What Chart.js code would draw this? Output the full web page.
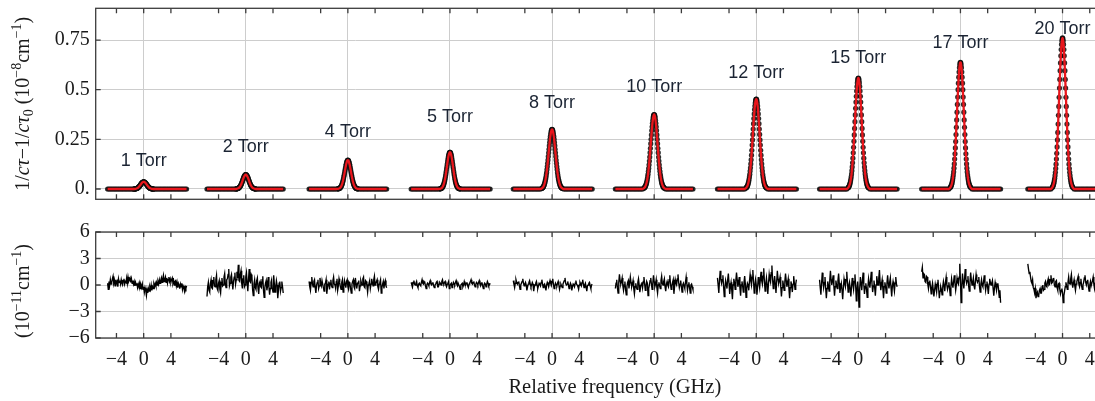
<!DOCTYPE html>
<html>
<head>
<meta charset="utf-8">
<script src="https://cdn.jsdelivr.net/npm/chart.js@4.4.1/dist/chart.umd.min.js"></script>
<style>
  html, body { margin: 0; padding: 0; background: #fff; overflow: hidden; width: 1095px; height: 401px; }
  canvas { position: absolute; left: 0; }
  #peaks { top: 0; }
  #resid { top: 210px; }
</style>
</head>
<body>
<canvas id="peaks" width="1140" height="210"></canvas>
<canvas id="resid" width="1140" height="191"></canvas>
<script>
// ---- data ----
const SEG_SPACING = 15; // GHz between centres of neighbouring scans on the shared axis
const pressures = ["1 Torr", "2 Torr", "4 Torr", "5 Torr", "8 Torr", "10 Torr", "12 Torr", "15 Torr", "17 Torr", "20 Torr"];
const scanRange = [[-5.3, 6.3], [-5.7, 5.5], [-5.7, 5.7], [-5.7, 5.9], [-5.7, 5.9], [-5.7, 5.7], [-5.7, 5.9], [-5.7, 5.7], [-5.7, 5.9], [-5.1, 6.1]];
const labelY = [0.14, 0.213, 0.289, 0.364, 0.435, 0.513, 0.584, 0.662, 0.734, 0.808];

const xTickRel = [-4, 0, 4];
const topTicks = [0, 0.25, 0.5, 0.75];
const topTickLabels = ["0.", "0.25", "0.5", "0.75"];
const resTicks = [-6, -3, 0, 3, 6];
const resTickLabels = ["\u22126", "\u22123", "0", "3", "6"];

const BASELINE = 0; // flat wings of every scan

// coarse sampling of the flat wings, GHz
const wingFreq = [-6.1, -5.9, -5.7, -5.5, -5.3, -5.1, -4.9, -4.7, -4.5, -4.3, -4.1, -3.9, -3.7, -3.5, -3.3, -3.1,
  -2.9, -2.7, -2.5, -2.3, -2.1, -1.9, -1.7, 1.7, 1.9, 2.1, 2.3, 2.5, 2.7, 2.9, 3.1, 3.3, 3.5, 3.7, 3.9,
  4.1, 4.3, 4.5, 4.7, 4.9, 5.1, 5.3, 5.5, 5.7, 5.9, 6.1, 6.3, 6.5];

// fine sampling across the absorption line, GHz
const coreFreq = [-1.5, -1.45, -1.4, -1.35, -1.3, -1.25, -1.2, -1.15, -1.1, -1.05, -1, -0.95, -0.9, -0.85, -0.8, -0.75,
  -0.7, -0.65, -0.6, -0.55, -0.5, -0.45, -0.4, -0.35, -0.3, -0.25, -0.2, -0.15, -0.1, -0.05, 0,
  0.05, 0.1, 0.15, 0.2, 0.25, 0.3, 0.35, 0.4, 0.45, 0.5, 0.55, 0.6, 0.65, 0.7, 0.75, 0.8, 0.85, 0.9, 0.95,
  1, 1.05, 1.1, 1.15, 1.2, 1.25, 1.3, 1.35, 1.4, 1.45, 1.5];

// residual sampling, GHz
const resFreq = [-6.1, -6, -5.9, -5.8, -5.7, -5.6, -5.5, -5.4, -5.3, -5.2, -5.1, -5, -4.9, -4.8, -4.7, -4.6, -4.5, -4.4, -4.3, -4.2,
  -4.1, -4, -3.9, -3.8, -3.7, -3.6, -3.5, -3.4, -3.3, -3.2, -3.1, -3, -2.9, -2.8, -2.7, -2.6, -2.5, -2.4, -2.3, -2.2,
  -2.1, -2, -1.9, -1.8, -1.7, -1.6, -1.5, -1.4, -1.3, -1.2, -1.1, -1, -0.9, -0.8, -0.7, -0.6, -0.5, -0.4, -0.3, -0.2,
  -0.1, 0, 0.1, 0.2, 0.3, 0.4, 0.5, 0.6, 0.7, 0.8, 0.9, 1, 1.1, 1.2, 1.3, 1.4, 1.5, 1.6, 1.7, 1.8,
  1.9, 2, 2.1, 2.2, 2.3, 2.4, 2.5, 2.6, 2.7, 2.8, 2.9, 3, 3.1, 3.2, 3.3, 3.4, 3.5, 3.6, 3.7, 3.8,
  3.9, 4, 4.1, 4.2, 4.3, 4.4, 4.5, 4.6, 4.7, 4.8, 4.9, 5, 5.1, 5.2, 5.3, 5.4, 5.5, 5.6, 5.7, 5.8,
  5.9, 6, 6.1, 6.2, 6.3, 6.4, 6.5];

// 1/c tau - 1/c tau0 (1e-8 cm^-1) on coreFreq
const peak1 = [0,0,0,0,.001,.001,.001,.001,.002,.002,.003,.004,.005,.006,.007,.009,.011,.013,.015,.017,.019,.022,.024,.027,.029,.031,.033,.034,.035,.036,
  .036,
  .036,.035,.034,.033,.031,.029,.027,.024,.022,.019,.017,.015,.013,.011,.009,.007,.006,.005,.004,.003,.002,.002,.001,.001,.001,.001,0,0,0,0];
const peak2 = [0,0,.001,.001,.001,.002,.002,.003,.004,.005,.006,.008,.010,.012,.015,.018,.021,.025,.030,.034,.039,.044,.049,.053,.058,.062,.065,.068,.070,.072,
  .072,
  .072,.070,.068,.065,.062,.058,.053,.049,.044,.039,.034,.030,.025,.021,.018,.015,.012,.010,.008,.006,.005,.004,.003,.002,.002,.001,.001,.001,0,0];
const peak3 = [.001,.001,.001,.002,.002,.003,.004,.006,.007,.010,.012,.016,.020,.024,.030,.036,.043,.051,.060,.069,.078,.088,.098,.107,.116,.124,.131,.137,.142,.144,
  .145,
  .144,.142,.137,.131,.124,.116,.107,.098,.088,.078,.069,.060,.051,.043,.036,.030,.024,.020,.016,.012,.010,.007,.006,.004,.003,.002,.002,.001,.001,.001];
const peak4 = [.001,.001,.001,.002,.003,.004,.005,.007,.009,.012,.016,.020,.025,.031,.038,.046,.055,.065,.076,.088,.100,.112,.125,.137,.148,.159,.168,.175,.181,.184,
  .185,
  .184,.181,.175,.168,.159,.148,.137,.125,.112,.100,.088,.076,.065,.055,.046,.038,.031,.025,.020,.016,.012,.009,.007,.005,.004,.003,.002,.001,.001,.001];
const peak5 = [.003,.005,.006,.008,.010,.013,.017,.021,.027,.033,.041,.049,.059,.071,.083,.098,.113,.129,.146,.164,.182,.200,.218,.235,.251,.265,.277,.287,.294,.299,
  .300,
  .299,.294,.287,.277,.265,.251,.235,.218,.200,.182,.164,.146,.129,.113,.098,.083,.071,.059,.049,.041,.033,.027,.021,.017,.013,.010,.008,.006,.005,.003];
const peak6 = [.004,.006,.008,.010,.013,.017,.021,.027,.033,.041,.051,.062,.074,.089,.104,.122,.141,.161,.183,.205,.228,.250,.272,.294,.313,.331,.346,.359,.368,.373,
  .375,
  .373,.368,.359,.346,.331,.313,.294,.272,.250,.228,.205,.183,.161,.141,.122,.104,.089,.074,.062,.051,.041,.033,.027,.021,.017,.013,.010,.008,.006,.004];
const peak7 = [.005,.007,.009,.012,.015,.020,.025,.032,.040,.050,.061,.074,.090,.107,.126,.147,.170,.195,.221,.247,.275,.302,.329,.355,.378,.400,.418,.433,.444,.451,
  .453,
  .451,.444,.433,.418,.400,.378,.355,.329,.302,.275,.247,.221,.195,.170,.147,.126,.107,.090,.074,.061,.050,.040,.032,.025,.020,.015,.012,.009,.007,.005];
const peak8 = [.006,.008,.011,.015,.019,.025,.031,.040,.050,.061,.075,.092,.111,.132,.155,.182,.210,.240,.272,.305,.339,.373,.406,.438,.467,.493,.516,.534,.548,.556,
  .559,
  .556,.548,.534,.516,.493,.467,.438,.406,.373,.339,.305,.272,.240,.210,.182,.155,.132,.111,.092,.075,.061,.050,.040,.031,.025,.019,.015,.011,.008,.006];
const peak9 = [.007,.010,.013,.017,.022,.028,.036,.045,.057,.070,.086,.105,.126,.151,.177,.207,.239,.274,.311,.348,.387,.426,.463,.500,.533,.563,.589,.610,.625,.635,
  .638,
  .635,.625,.610,.589,.563,.533,.500,.463,.426,.387,.348,.311,.274,.239,.207,.177,.151,.126,.105,.086,.070,.057,.045,.036,.028,.022,.017,.013,.010,.007];
const peak10 = [.008,.011,.015,.020,.026,.033,.043,.054,.068,.084,.103,.125,.151,.180,.212,.247,.285,.327,.371,.416,.462,.508,.552,.596,.635,.671,.702,.728,.746,.757,
  .761,
  .757,.746,.728,.702,.671,.635,.596,.552,.508,.462,.416,.371,.327,.285,.247,.212,.180,.151,.125,.103,.084,.068,.054,.043,.033,.026,.020,.015,.011,.008];

// fit residuals (1e-11 cm^-1) on resFreq inside each scanRange
const res1 = [0.2,-0.5,0.4,0.0,0.6,0.1,0.3,0.7,1.0,0.2, 0.5,-0.1,0.6,0.2,0.4,-0.2,0.7,0.3,0.5,0.1,
  0.6,0.2,0.0,0.5,0.7,0.1,0.4,0.3,0.8,0.2, 0.9,0.4,0.6,0.8,0.3,0.7,0.2,0.5,0.1,0.4,
  -0.1,0.3,0.0,0.2,-0.3,0.1,-0.2,0.2,-0.4,0.0, -0.3,0.1,-0.5,-0.2,-0.8,-0.3,-0.6,-1.2,-0.5,-0.9,
  -0.4,-0.7,-0.2,-0.5,0.0,-0.6,-0.2,-0.4,0.1,-0.2, 0.2,-0.1,0.3,0.0,0.4,0.1,0.6,0.2,0.5,0.8,
  0.3,0.7,1.1,0.4,0.6,0.9,0.3,0.8,0.2,0.6, 0.9,0.4,0.7,0.3,0.6,0.8,0.2,0.5,0.0,0.4,
  0.5,-0.1,0.3,-0.3,0.2,0.0,-0.4,0.1,-0.2,0.2, -0.5,-0.1,-0.3,-0.7,-0.2,-0.4,-0.1];
const res2 = [-1.3,-0.2,0.3,-0.6,-0.8,0.2,0.6,-0.3,-0.4,0.5, 0.9,-0.1,-0.2,0.6,1.1,-0.4,-0.6,0.2,0.5,-0.5,
  -0.9,0.3,0.8,-0.1,0.0,0.9,1.3,0.1,-0.3,0.6, 0.7,1.2,1.8,-0.1,0.2,0.9,1.2,0.3,-0.5,0.4,
  0.9,1.4,0.1,0.6,1.5,0.8,2.3,0.5,0.4,1.2, 1.6,0.2,-0.4,0.7,1.1,-0.2,0.0,0.9,1.4,0.3,
  -0.7,0.6,1.8,0.4,0.3,1.2,1.0,-0.5,-1.2,0.1, 0.6,-0.3,-0.5,0.5,0.8,-0.4,-1.0,0.2,0.4,-0.2,
  -0.3,0.6,1.0,-0.6,-1.4,-0.3,0.2,0.5,-0.6,-0.1, 0.9,-0.2,-1.1,-0.4,0.3,0.6,-0.4,-0.8,1.1,0.1,
  -0.8,-0.2,0.5,0.0,-1.5,-0.6,0.2,0.4,-0.7,-0.3, 0.4,-0.2,-0.9];
const res3 = [0.4,-0.2,-0.6,0.3,0.9,0.1,-0.2,0.4,0.6,-0.3, -0.9,0.0,0.3,0.6,-0.4,-0.1,0.8,0.2,-0.1,0.5,
  0.5,-0.3,-0.7,0.1,0.2,0.6,-1.0,-0.3,0.1,0.4, -0.5,0.2,0.6,-0.1,-0.3,0.5,0.9,0.1,0.0,-0.4,
  0.4,0.7,-0.6,-0.1,0.7,0.3,-0.2,-0.5,0.3,0.6, -0.8,-0.2,0.5,0.1,-0.3,0.4,0.6,-0.2,-0.5,0.3,
  0.2,-0.4,-0.9,0.1,0.4,0.6,-0.2,-0.4,0.8,0.2, -0.4,0.1,0.3,0.5,-0.7,-0.1,0.5,0.2,0.0,0.7,
  0.9,-0.2,-0.3,0.5,0.4,-0.1,-0.8,0.0,0.2,0.5, -0.4,0.1,0.7,0.3,-0.1,0.6,1.0,0.0,0.2,0.4,
  0.6,-0.2,-0.5,0.1,0.3,0.6,-0.9,-0.3,0.1,0.4, -0.4,0.2,0.5,-0.1,-0.3];
const res4 = [0.3,0.0,-0.2,0.3,0.5,0.1,0.0,0.2,0.4,-0.1, -0.3,0.1,0.2,0.0,-0.1,0.3,0.6,0.2,0.1,0.4,
  0.3,-0.1,-0.4,0.0,0.2,0.1,-0.1,0.3,0.5,0.1, 0.0,0.2,0.3,-0.1,-0.3,0.0,0.1,0.3,0.4,-0.2,
  -0.2,0.1,0.3,0.2,0.0,0.4,0.6,0.2,0.1,0.3, 0.4,0.0,-0.2,0.1,0.2,0.4,-0.4,-0.1,0.1,0.2,
  -0.3,0.0,0.3,0.1,0.0,0.3,0.5,0.1,-0.1,0.2, 0.2,-0.2,-0.5,0.0,0.1,0.2,-0.2,0.0,0.4,0.1,
  0.0,0.2,0.3,-0.1,-0.3,0.1,0.2,0.4,0.6,0.2, 0.1,0.3,0.4,0.0,-0.2,0.1,0.3,0.2,0.0,0.3,
  0.5,0.1,-0.1,0.2,0.3,-0.1,-0.4,0.0,0.2,0.1, -0.2,0.1,0.4,0.2,-0.1,0.0,0.2];
const res5 = [0.5,0.1,-0.3,0.2,0.6,0.3,0.1,0.3,0.4,-0.1, -0.5,0.0,0.2,0.4,0.7,0.2,-0.1,0.1,0.3,0.0,
  -0.6,-0.2,0.1,0.3,0.5,0.1,-0.2,0.0,0.3,0.1, -0.7,-0.2,0.0,0.2,0.4,0.0,-0.4,-0.1,0.2,0.1,
  -0.1,0.3,0.6,0.1,-0.3,0.0,0.1,-0.2,-0.6,0.0, 0.3,0.1,-0.2,0.2,0.5,0.2,0.0,0.4,0.7,0.1,
  -0.4,-0.1,0.2,0.0,-0.1,0.2,0.4,0.0,-0.5,-0.1, 0.1,-0.1,-0.3,0.1,0.3,0.5,0.8,0.2,0.0,0.1,
  0.4,0.0,-0.4,-0.1,0.2,0.0,-0.6,-0.2,0.1,0.0, -0.2,0.2,0.5,0.1,0.0,-0.2,-0.5,0.0,0.3,0.1,
  -0.1,0.3,0.6,0.1,-0.3,0.0,0.2,-0.2,-0.7,-0.1, 0.0,0.2,0.3,-0.1,-0.4,0.0,0.1];
const res6 = [-0.4,0.2,0.6,-0.3,-0.9,0.3,1.2,0.5,0.1,0.4, 0.8,-0.1,-0.6,0.0,0.4,-0.5,-1.1,-0.2,0.3,0.5,
  -0.4,0.2,0.9,0.3,-0.2,0.1,0.5,-0.4,-1.0,-0.2, 0.2,-0.3,-0.5,0.3,0.7,0.0,-0.8,-0.3,0.1,0.3,
  -0.3,0.4,0.9,0.1,-0.6,-0.1,0.4,0.2,-1.2,-0.4, 0.0,0.5,0.8,0.1,-0.5,0.2,1.1,0.4,-0.2,0.1,
  0.6,-0.3,-0.9,0.0,0.3,-0.1,-0.4,0.5,1.0,0.2, 0.0,0.4,0.7,-0.2,-0.7,0.1,0.4,0.0,-0.2,0.6,
  1.1,0.1,-0.5,-0.1,0.3,0.6,-1.0,-0.2,0.6,0.2, 0.0,0.7,1.2,0.3,-0.3,0.1,0.5,-0.2,-0.8,0.0,
  0.2,-0.1,-0.4,0.3,0.9,0.1,-0.6,0.0,0.3,-0.3, -0.9,0.0,0.1,-0.2,-0.5];
const res7 = [0.8,0.0,-0.9,0.5,1.6,0.7,0.2,0.6,1.1,-0.2, -1.3,-0.3,0.5,0.1,-0.4,0.6,1.3,0.2,-1.0,-0.2,
  0.3,-0.6,-1.6,0.0,0.7,0.3,-0.5,0.5,1.4,0.6, -0.2,0.2,0.9,-0.3,-1.2,0.0,0.4,-0.1,-0.8,0.3,
  1.0,0.1,-1.4,-0.4,0.2,0.0,-0.6,0.4,1.2,0.5, 0.0,0.9,1.7,0.4,-0.9,-0.1,0.6,0.0,-1.1,-0.2,
  0.9,0.3,-0.3,0.6,1.5,0.5,0.1,1.0,1.9,0.4, -0.7,0.1,0.8,0.0,-1.0,0.2,1.2,0.6,0.3,1.4,
  2.2,0.6,-0.4,0.3,1.0,0.1,-0.9,0.4,1.6,0.7, 0.2,0.5,0.9,-0.2,-1.3,-0.3,0.5,0.0,-0.6,0.4,
  1.3,0.5,-0.2,0.2,0.7,-0.4,-1.5,-0.3,0.4,0.0, -0.8,0.1,1.0,0.2,-0.5,0.1,0.6];
const res8 = [0.6,-0.3,-1.1,0.2,1.4,0.4,-0.3,0.3,0.9,-0.4, -1.5,-0.4,0.4,0.0,-0.7,0.5,1.6,0.6,0.0,0.5,
  1.1,-0.1,-1.2,-0.2,0.5,0.0,-0.4,0.5,1.3,0.2, -0.9,-0.2,0.2,-0.6,-1.6,-0.3,0.7,0.2,-0.2,0.6,
  1.5,0.3,-0.8,-0.1,0.3,-0.4,-1.3,-0.2,0.8,0.1, -0.5,0.4,1.2,0.0,-1.8,-0.5,0.4,-0.6,-2.5,-0.4,
  0.9,0.2,-0.6,0.5,1.4,0.1,-1.0,-0.2,0.2,-0.5, -1.4,-0.3,0.7,0.1,-0.3,0.6,1.5,0.2,-0.8,-0.1,
  0.5,-0.3,-1.2,0.0,1.0,0.4,0.0,0.8,1.7,0.3, -0.6,0.1,0.6,-0.4,-1.5,-0.2,0.3,-0.2,-0.9,0.2,
  1.1,0.2,-0.4,0.3,0.8,-0.3,-1.3,-0.1,0.4,-0.1, -0.7,0.2,0.9,0.1,-0.2];
const res9 = [1.5,2.0,0.8,1.3,1.2,0.4,0.3,1.0,0.9,0.1, -0.4,0.3,0.5,-0.2,-1.0,-0.3,0.2,-0.5,-1.3,-0.6,
  0.1,-0.3,-0.8,0.2,0.6,-0.4,-1.5,-0.7,-0.2,-0.5, -1.1,-0.2,0.4,-0.1,-0.7,0.3,0.9,0.0,-0.5,-0.1,
  0.3,-0.4,-1.2,-0.2,0.7,0.1,-0.3,0.4,1.1,0.2, -0.6,0.0,0.8,0.3,0.1,0.9,2.4,0.5,-2.0,-0.3,
  1.3,0.4,-0.4,0.6,1.8,0.7,0.2,0.5,1.0,-0.1, -0.7,0.3,1.4,0.6,0.0,0.3,0.8,-0.1,-0.5,0.4,
  1.2,0.6,0.3,0.5,0.9,-0.2,-0.8,0.1,0.6,0.0, -0.2,0.4,1.1,0.2,-0.6,0.0,0.4,-0.3,-1.0,0.1,
  0.7,0.3,0.0,0.2,0.5,-0.4,-1.2,-0.3,0.3,-0.1, -0.6,0.1,0.2,-0.5,-1.4,-0.6,-2.0];
const res10 = [2.4,1.8,1.3,1.5,0.9,0.4,0.2,0.6,-0.3,-0.5, -0.9,-0.4,-1.5,-1.0,-0.8,-1.3,-1.2,-0.6,-0.4,-0.9,
  -0.9,-0.2,0.0,-0.6,-0.5,0.2,0.4,-0.1,-0.2,0.4, 0.7,0.0,0.1,0.6,1.1,0.2,0.3,0.7,0.8,0.0,
  -0.2,0.4,0.5,-0.3,-0.6,0.1,0.2,-0.5,-1.0,-0.6, -0.4,-0.9,-2.0,-1.2,-0.7,-0.2,0.3,-0.1,-0.5,0.3,
  0.9,0.2,0.1,0.7,1.2,0.3,-0.3,0.2,0.6,-0.1, -0.6,0.1,0.4,0.7,1.0,0.1,-0.2,0.3,0.7,-0.1,
  -0.5,0.0,0.3,0.8,1.1,0.3,0.0,0.4,0.6,-0.2, -0.7,0.0,0.4,-0.1,-0.1,0.5,0.9,0.1,-0.4,0.2,
  0.5,0.0,0.0,0.4,0.8,0.1,-0.5,-0.1,0.3,0.0, -0.2,0.1,0.4];

const peaks = [peak1, peak2, peak3, peak4, peak5, peak6, peak7, peak8, peak9, peak10];
const residuals = [res1, res2, res3, res4, res5, res6, res7, res8, res9, res10];

// ---- look ----
const X_MIN = -7.05, X_MAX = 145.5;
const SERIF = '"Liberation Serif", "Times New Roman", serif';
const SANS = '"Liberation Sans", Arial, sans-serif';
const TXT = '#1a1a1a';
const GRID = '#cdcdcd';
const FRAME = '#3c3c3c';
const FIT_RED = '#e8161c';

function relOf(v) { return Math.round(v - SEG_SPACING * Math.round(v / SEG_SPACING)); }
function inScan(f, r) { return f >= r[0] - 1e-6 && f <= r[1] + 1e-6; }

function peakPoints(k) {
  const off = k * SEG_SPACING;
  const pts = [];
  wingFreq.forEach(f => { if (inScan(f, scanRange[k])) pts.push({ x: off + f, y: BASELINE }); });
  coreFreq.forEach((f, i) => { if (peaks[k][i] !== undefined) pts.push({ x: off + f, y: peaks[k][i] }); });
  return pts.sort((a, b) => a.x - b.x);
}

function residualPoints(k) {
  const off = k * SEG_SPACING;
  const fs = resFreq.filter(f => inScan(f, scanRange[k]));
  return residuals[k].slice(0, fs.length).map((v, i) => ({ x: off + fs[i], y: v }));
}

function xAxis(showLabels, height) {
  return {
    type: 'linear', min: X_MIN, max: X_MAX,
    afterBuildTicks: s => {
      s.ticks = [];
      pressures.forEach((p, k) => xTickRel.forEach(t => s.ticks.push({ value: k * SEG_SPACING + t })));
    },
    afterFit: s => { s.height = height; s.paddingLeft = 0; s.paddingRight = 0; },
    ticks: {
      display: showLabels, autoSkip: false, maxRotation: 0, minRotation: 0, padding: 10,
      color: TXT, font: { family: SERIF, size: 20 },
      callback: v => { const r = relOf(v); return r < 0 ? '\u2212' + (-r) : String(r); }
    },
    grid: { drawTicks: false, lineWidth: 1, color: c => (c.tick && relOf(c.tick.value) === 0) ? GRID : 'rgba(0,0,0,0)' },
    border: { display: false }
  };
}

function yAxis(min, max, ticks, labels) {
  return {
    min, max,
    afterBuildTicks: s => { s.ticks = ticks.map(v => ({ value: v })); },
    afterFit: s => { s.width = 95.7; s.paddingTop = 0; s.paddingBottom = 0; },
    ticks: { autoSkip: false, padding: 6, color: TXT, font: { family: SERIF, size: 20 }, callback: (v, i) => labels[i] },
    grid: { drawTicks: false, color: GRID, lineWidth: 1 },
    border: { display: false }
  };
}

// frame with inward ticks, like the original
const framePlugin = {
  id: 'frame',
  afterDraw(chart) {
    const { ctx, chartArea: a, scales: { x, y } } = chart;
    ctx.save();
    ctx.strokeStyle = FRAME;
    ctx.lineWidth = 1.3;
    ctx.strokeRect(a.left, a.top, a.right - a.left, a.bottom - a.top);
    ctx.beginPath();
    x.ticks.forEach(t => {
      const px = x.getPixelForValue(t.value);
      ctx.moveTo(px, a.bottom); ctx.lineTo(px, a.bottom - 5);
      ctx.moveTo(px, a.top); ctx.lineTo(px, a.top + 5);
    });
    y.ticks.forEach(t => {
      const py = y.getPixelForValue(t.value);
      ctx.moveTo(a.left, py); ctx.lineTo(a.left + 5, py);
    });
    ctx.stroke();
    ctx.restore();
  }
};

const pressureLabels = {
  id: 'pressureLabels',
  afterDatasetsDraw(chart) {
    const { ctx, scales: { x, y } } = chart;
    ctx.save();
    ctx.fillStyle = '#1b2433';
    ctx.font = '18px ' + SANS;
    ctx.textAlign = 'center';
    ctx.textBaseline = 'middle';
    pressures.forEach((p, k) => ctx.fillText(p, x.getPixelForValue(k * SEG_SPACING), y.getPixelForValue(labelY[k])));
    ctx.restore();
  }
};

// rotated axis title with italics, sub- and superscripts
function yTitle(parts, cy, baseX, size) {
  return {
    id: 'yTitle',
    afterDraw(chart) {
      const ctx = chart.ctx;
      const fontOf = p => (p.i ? 'italic ' : '') + ((p.sup || p.sub) ? size * 0.7 : size) + 'px ' + SERIF;
      let w = 0;
      parts.forEach(p => { ctx.font = fontOf(p); p.w = ctx.measureText(p.t).width; w += p.w; });
      ctx.save();
      ctx.translate(baseX, cy);
      ctx.rotate(-Math.PI / 2);
      ctx.fillStyle = TXT;
      ctx.textBaseline = 'alphabetic';
      let x = -w / 2;
      parts.forEach(p => {
        ctx.font = fontOf(p);
        ctx.fillText(p.t, x, p.sup ? -size * 0.38 : p.sub ? size * 0.2 : 0);
        x += p.w;
      });
      ctx.restore();
    }
  };
}

const topTitle = [{ t: '1/' }, { t: 'c', i: 1 }, { t: '\u03c4', i: 1 }, { t: '\u22121/' }, { t: 'c', i: 1 }, { t: '\u03c4', i: 1 },
  { t: '0', sub: 1 }, { t: ' (10' }, { t: '\u22128', sup: 1 }, { t: 'cm' }, { t: '\u22121', sup: 1 }, { t: ')' }];
const resTitle = [{ t: '(10' }, { t: '\u221211', sup: 1 }, { t: 'cm' }, { t: '\u22121', sup: 1 }, { t: ')' }];

const common = {
  responsive: false, animation: false, events: [],
  plugins: { legend: { display: false }, tooltip: { enabled: false } }
};

const peakSets = [];
pressures.forEach((p, k) => {
  const pts = peakPoints(k);
  peakSets.push({ label: p + ' fit', data: pts, showLine: true, borderColor: FIT_RED, borderWidth: 2.3,
    pointRadius: 0, fill: false, cubicInterpolationMode: 'monotone', order: 0 });
  peakSets.push({ label: p, data: pts.map(q => ({ x: q.x, y: q.y })), showLine: false, pointRadius: 2.6,
    pointBorderWidth: 0, pointBackgroundColor: 'rgba(15,15,15,0.88)', order: 1 });
});

new Chart(document.getElementById('peaks'), {
  type: 'scatter',
  data: { datasets: peakSets },
  options: Object.assign({}, common, {
    layout: { padding: { top: 8.3, right: 6, bottom: 0, left: 0 } },
    scales: {
      x: xAxis(false, 10.7),
      y: yAxis(-0.052, 0.91, topTicks, topTickLabels)
    }
  }),
  plugins: [framePlugin, pressureLabels, yTitle(topTitle, 103.8, 28.5, 20)]
});

new Chart(document.getElementById('resid'), {
  type: 'scatter',
  data: {
    datasets: pressures.map((p, k) => ({
      label: p, data: residualPoints(k), showLine: true, borderColor: '#000', borderWidth: 1.35,
      pointRadius: 0, tension: 0
    }))
  },
  options: Object.assign({}, common, {
    layout: { padding: { top: 22, right: 6, bottom: 0, left: 0 } },
    scales: {
      x: Object.assign(xAxis(true, 63), {
        title: { display: true, text: 'Relative frequency (GHz)', color: TXT,
          font: { family: SERIF, size: 20.5, lineHeight: 1.2 }, padding: { top: 0, bottom: 1 } }
      }),
      y: yAxis(-6, 6, resTicks, resTickLabels)
    }
  }),
  plugins: [framePlugin, yTitle(resTitle, 81, 29, 20)]
});
</script>
</body>
</html>
